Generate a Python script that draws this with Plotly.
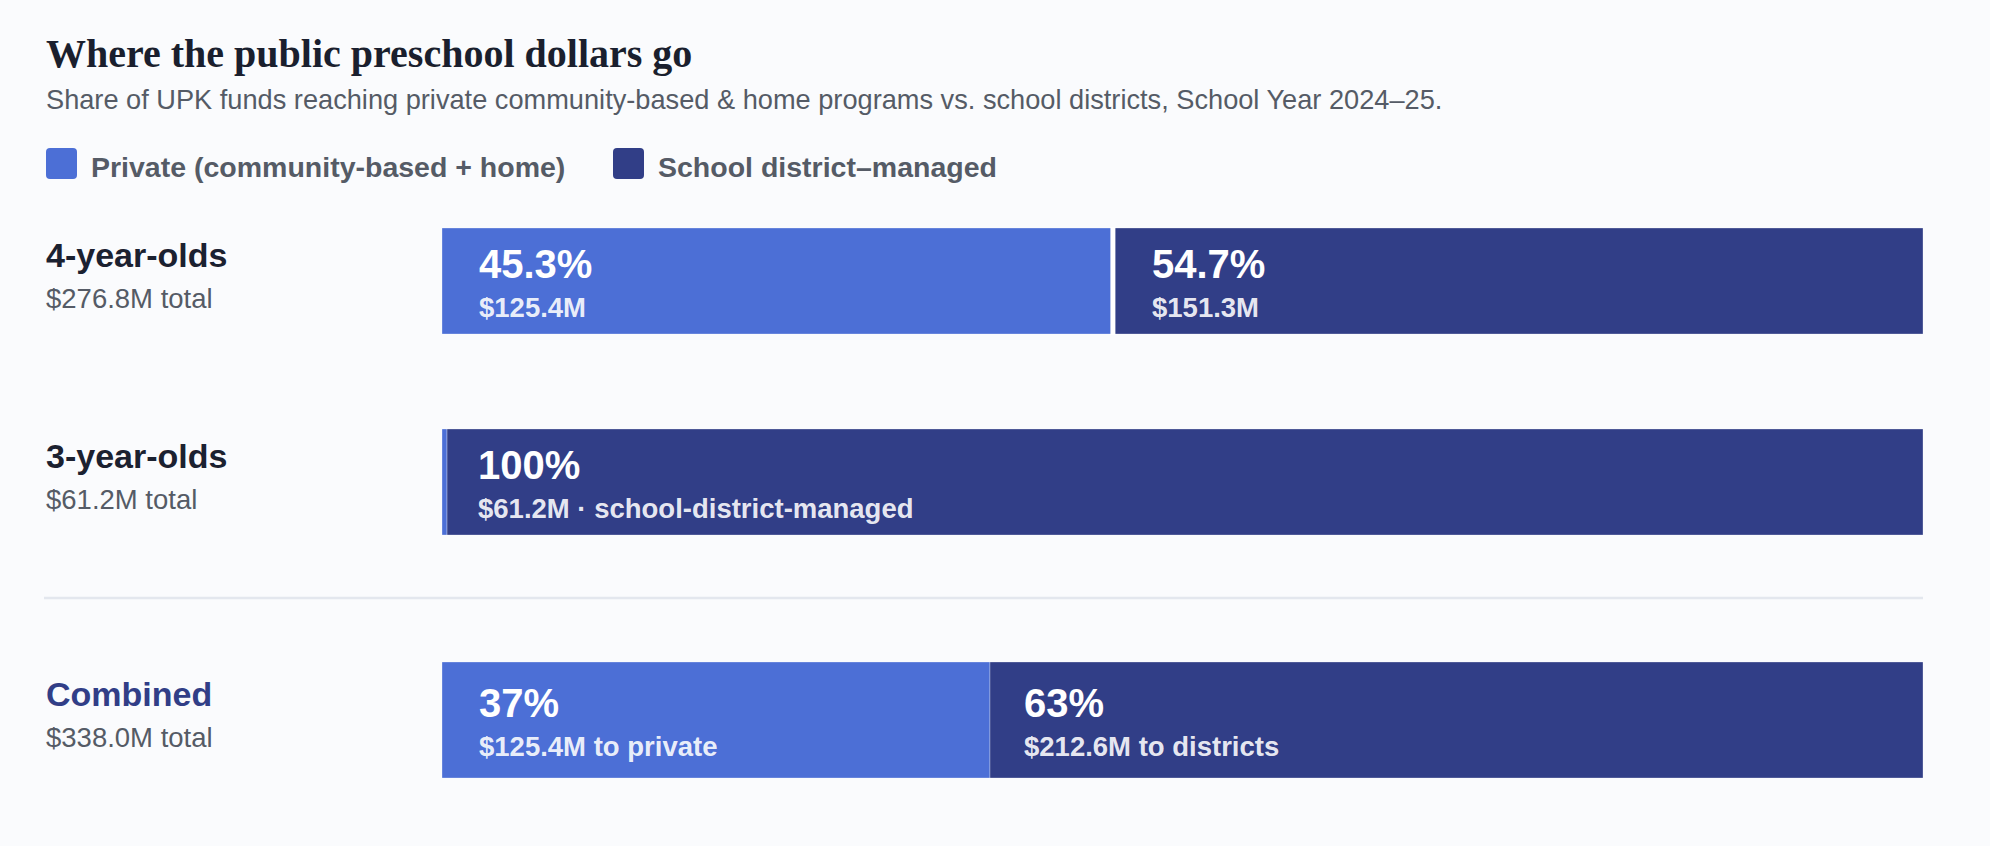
import plotly.graph_objects as go

# data
groups = ["4-year-olds", "3-year-olds", "Combined"]
group_totals = ["$276.8M total", "$61.2M total", "$338.0M total"]
private_share = [45.3, 0.0, 37.0]
district_share = [54.7, 100.0, 63.0]
private_amount = ["$125.4M", "", "$125.4M to private"]
district_amount = ["$151.3M", "$61.2M · school-district-managed", "$212.6M to districts"]
pct_labels_private = ["45.3%", "", "37%"]
pct_labels_district = ["54.7%", "100%", "63%"]
legend_names = ["Private (community-based + home)", "School district–managed"]

# layout constants (pixels)
W, H = 1990, 846
BAR_LEFT, BAR_RIGHT = 442, 1923
ROW_CENTER = [281, 482, 720]
ROW_HEIGHT = [106, 106, 116]
ROW_GAP = [5, 0, 0]          # white gap between the two segments
MIN_SEG = 0.34               # smallest visible segment, in % units
PAD = 35

LIGHT = "#4c6fd6"
DARK = "#313e87"
BG = "#fafbfd"
SANS = "Liberation Sans, Arial, sans-serif"
SERIF = "Liberation Serif, Times New Roman, serif"


def px(x):
    return x / W


def py(y):
    return 1 - y / H


fig = go.Figure()

shown_private = [max(p, MIN_SEG) for p in private_share]
shown_district = [100 - p for p in shown_private]

for i in range(len(groups)):
    fig.add_trace(go.Bar(
        y=[ROW_CENTER[i]], x=[shown_private[i]], base=[0], width=[ROW_HEIGHT[i]],
        orientation="h", marker=dict(color=LIGHT, line=dict(color="rgba(255,255,255,0.3)", width=1)),
        showlegend=False, hoverinfo="skip"))
    fig.add_trace(go.Bar(
        y=[ROW_CENTER[i]], x=[shown_district[i]], base=[shown_private[i]], width=[ROW_HEIGHT[i]],
        orientation="h", marker=dict(color=DARK, line=dict(color="rgba(255,255,255,0.3)", width=1)),
        showlegend=False, hoverinfo="skip"))

shapes = []
annotations = []

for i in range(len(groups)):
    c = ROW_CENTER[i]
    if ROW_GAP[i]:
        shapes.append(dict(type="line", xref="x", yref="y",
                           x0=shown_private[i], x1=shown_private[i],
                           y0=c - ROW_HEIGHT[i] / 2 - 1, y1=c + ROW_HEIGHT[i] / 2 + 1,
                           line=dict(color="white", width=ROW_GAP[i])))
    # left labels
    annotations.append(dict(xref="paper", yref="y", x=px(44), y=c - 26.5, xanchor="left", yanchor="middle",
                            text="<b>%s</b>" % groups[i], showarrow=False,
                            font=dict(family=SANS, size=34, color=DARK if i == 2 else "#1b2130")))
    annotations.append(dict(xref="paper", yref="y", x=px(44), y=c + 17.5, xanchor="left", yanchor="middle",
                            text=group_totals[i], showarrow=False,
                            font=dict(family=SANS, size=27.5, color="#555b66")))
    # in-bar labels
    dark_start = shown_private[i] if private_share[i] > 0 else 0
    segs = [(0, 0, pct_labels_private[i], private_amount[i]),
            (dark_start, ROW_GAP[i] - 3 if dark_start else -1, pct_labels_district[i], district_amount[i])]
    for start, extra, pct, amt in segs:
        if not pct:
            continue
        shift = PAD + extra
        annotations.append(dict(xref="x", yref="y", x=start, y=c - 17, xanchor="left", yanchor="middle",
                                xshift=shift, text="<b>%s</b>" % pct, showarrow=False,
                                font=dict(family=SANS, size=40, color="white")))
        annotations.append(dict(xref="x", yref="y", x=start, y=c + 26, xanchor="left", yanchor="middle",
                                xshift=shift, text="<b>%s</b>" % amt, showarrow=False,
                                font=dict(family=SANS, size=27.5, color="rgba(255,255,255,0.9)")))

# divider before combined row
shapes.append(dict(type="line", xref="paper", yref="paper", x0=px(44), x1=px(BAR_RIGHT),
                   y0=py(598), y1=py(598), line=dict(color="#e3e7ee", width=2.5)))

# title / subtitle
annotations.append(dict(xref="paper", yref="paper", x=px(44), y=py(53), xanchor="left", yanchor="middle",
                        text="<b>Where the public preschool dollars go</b>", showarrow=False,
                        font=dict(family=SERIF, size=40, color="#1a1f2e")))
annotations.append(dict(xref="paper", yref="paper", x=px(44), y=py(99.5), xanchor="left", yanchor="middle",
                        text="Share of UPK funds reaching private community-based & home programs vs. school districts, School Year 2024–25.",
                        showarrow=False, font=dict(family=SANS, size=27.2, color="#555b66")))

# legend
legend_x = [46, 613]
legend_colors = [LIGHT, DARK]
for lx, name, col in zip(legend_x, legend_names, legend_colors):
    x0, x1, y0, y1, r = lx, lx + 31, 148, 179, 4
    path = ("M {a},{t} L {b},{t} Q {x1},{t} {x1},{c} L {x1},{d} Q {x1},{bt} {b},{bt} "
            "L {a},{bt} Q {x0},{bt} {x0},{d} L {x0},{c} Q {x0},{t} {a},{t} Z").format(
        a=px(x0 + r), b=px(x1 - r), x0=px(x0), x1=px(x1),
        t=py(y0), bt=py(y1), c=py(y0 + r), d=py(y1 - r))
    shapes.append(dict(type="path", xref="paper", yref="paper", path=path,
                       fillcolor=col, line=dict(width=0)))
    annotations.append(dict(xref="paper", yref="paper", x=px(lx + 43), y=py(167), xanchor="left",
                            yanchor="middle", text="<b>%s</b>" % name, showarrow=False,
                            font=dict(family=SANS, size=28.5, color="#555b66")))

fig.update_layout(
    width=W, height=H,
    margin=dict(l=0, r=0, t=0, b=0),
    paper_bgcolor=BG, plot_bgcolor=BG,
    barmode="overlay",
    xaxis=dict(range=[0, 100], domain=[px(BAR_LEFT), px(BAR_RIGHT)], visible=False, fixedrange=True),
    yaxis=dict(range=[H, 0], domain=[0, 1], visible=False, fixedrange=True),
    shapes=shapes,
    annotations=annotations,
)

# the page's default 8px body margin would shift everything
fig.write_html("out.html", config={"displayModeBar": False},
               post_script="document.body.style.margin='0';document.body.style.overflow='hidden';"
                           "document.body.style.background='%s';" % BG)
